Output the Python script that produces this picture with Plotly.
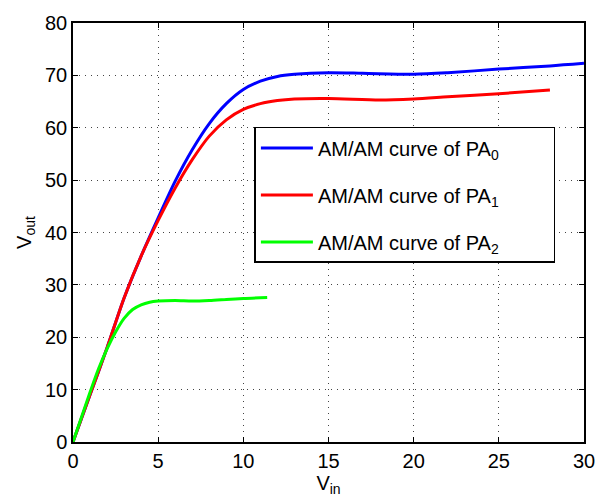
import plotly.graph_objects as go

# PA0
x0 = [0, 1, 2, 3, 4, 5, 6, 7, 8, 9, 10, 11, 12, 13, 15, 17, 20, 22, 25, 28, 30]
y0 = [0, 9, 18, 27.5, 35.5, 42.8, 49.8, 55.8, 60.8, 64.6, 67.3, 68.9, 69.8, 70.2, 70.5, 70.4, 70.2, 70.5, 71.2, 71.8, 72.3]
# PA1
x1 = [0, 1, 2, 3, 4, 5, 6, 7, 8, 9, 10, 11, 12, 13, 15, 18, 20, 22, 25, 28]
y1 = [0, 9, 18, 27.5, 35.5, 42.3, 48.5, 53.9, 58.4, 61.5, 63.5, 64.6, 65.2, 65.5, 65.6, 65.3, 65.5, 65.9, 66.5, 67.2]
# PA2
x2 = [0, 1, 1.5, 2, 2.5, 3, 3.5, 4, 4.5, 5, 6, 7, 8, 9, 10, 11.4]
y2 = [0, 9.5, 14, 17.8, 21, 23.6, 25.3, 26.2, 26.7, 26.9, 27, 26.9, 27, 27.2, 27.4, 27.6]

names = ["AM/AM curve of PA<sub>0</sub>", "AM/AM curve of PA<sub>1</sub>", "AM/AM curve of PA<sub>2</sub>"]
colors = ["#0000ff", "#ff0000", "#00ff00"]
pad = "\u00a0" * 9

fig = go.Figure()
for i, (xs, ys) in enumerate([(x0, y0), (x1, y1), (x2, y2)]):
    fig.add_trace(go.Scatter(x=xs, y=ys, mode="lines", name=names[i] + pad,
                             line=dict(color=colors[i], width=3, shape="spline", smoothing=0.8),
                             legendgroup=str(i)))

axis_common = dict(
    showline=True, linecolor="black", linewidth=1.5, mirror="ticks",
    ticks="inside", ticklen=5, tickcolor="black", tickwidth=1,
    showgrid=True, gridcolor="#444444", griddash="1px,5px", gridwidth=1,
    zeroline=False, tickfont=dict(size=20, color="black"),
)

fig.update_layout(
    width=607, height=502,
    margin=dict(l=73, r=13, t=15, b=56),
    paper_bgcolor="white", plot_bgcolor="white",
    font=dict(family="Liberation Sans, Arial, sans-serif", color="black", size=20),
    xaxis=dict(range=[0, 30], dtick=5,
               title=dict(text="V<sub>in</sub>", font=dict(size=20), standoff=4), **axis_common),
    yaxis=dict(range=[0, 80], dtick=10,
               title=dict(text="V<sub>out</sub>", font=dict(size=20), standoff=8), **axis_common),
    legend=dict(x=0.355, y=0.752, xanchor="left", yanchor="top",
                bgcolor="white", bordercolor="black", borderwidth=1.5,
                font=dict(size=20), tracegroupgap=18, itemwidth=52),
    showlegend=True,
)

fig.write_html("out.html", config={"displayModeBar": False},
               post_script="document.body.style.margin='0';document.body.style.padding='0';")
